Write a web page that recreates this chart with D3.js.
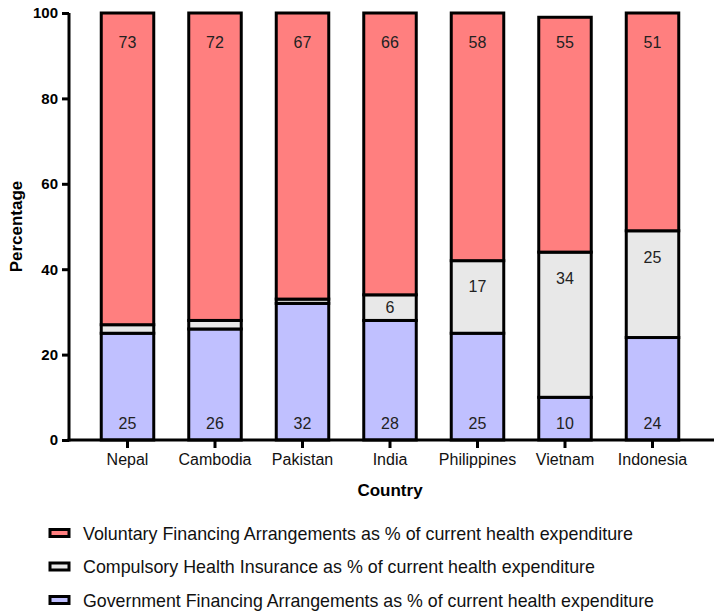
<!DOCTYPE html>
<html>
<head>
<meta charset="utf-8">
<script src="https://cdn.jsdelivr.net/npm/d3@7"></script>
<style>
  body { margin: 0; background: #fff; }
  text { font-family: "Liberation Sans", Arial, sans-serif; }
</style>
</head>
<body>
<div id="chart"></div>
<script>
// Data
var countries = ["Nepal", "Cambodia", "Pakistan", "India", "Philippines", "Vietnam", "Indonesia"];
var government = [25, 26, 32, 28, 25, 10, 24];
var compulsory = [2, 2, 1, 6, 17, 34, 25];
var voluntary = [73, 72, 67, 66, 58, 55, 51];
var yTicks = [0, 20, 40, 60, 80, 100];

var seriesNames = [
  "Government Financing Arrangements as % of current health expenditure",
  "Compulsory Health Insurance as % of current health expenditure",
  "Voluntary Financing Arrangements as % of current health expenditure"
];
var seriesColors = ["#c0c0ff", "#e8e8e8", "#ff7f7f"];
var seriesValues = [government, compulsory, voluntary];
// labels hidden on tiny slivers
var showLabel = [
  [true, true, true, true, true, true, true],
  [false, false, false, true, true, true, true],
  [true, true, true, true, true, true, true]
];

var svgWidth = 720;
var svgHeight = 612;

var chartMargin = { top: 13, left: 69 };
var chartHeight = 427;
var chartWidth = 645;

var svg = d3.select("#chart")
  .append("svg")
  .attr("width", svgWidth)
  .attr("height", svgHeight);

var chartGroup = svg.append("g")
  .attr("transform", `translate(${chartMargin.left}, ${chartMargin.top})`);

// stacked rows
var rows = countries.map((c, i) => {
  var r = { country: c };
  seriesValues.forEach((s, k) => r["s" + k] = s[i]);
  return r;
});
var stack = d3.stack().keys(["s0", "s1", "s2"]);
var stacked = stack(rows);

var xScale = d3.scaleBand()
  .domain(countries)
  .range([-1, chartWidth - 2])
  .paddingInner(0.4)
  .paddingOuter(0.38);

var yScale = d3.scaleLinear()
  .domain([0, 100])
  .range([chartHeight, 0]);

// bars
stacked.forEach((layer, k) => {
  var g = chartGroup.append("g");
  g.selectAll("rect")
    .data(layer)
    .enter()
    .append("rect")
    .attr("x", d => xScale(d.data.country))
    .attr("y", d => yScale(d[1]))
    .attr("width", xScale.bandwidth())
    .attr("height", d => yScale(d[0]) - yScale(d[1]))
    .attr("fill", seriesColors[k])
    .attr("stroke", "#000")
    .attr("stroke-width", 3);

  g.selectAll("text")
    .data(layer.filter((d, i) => showLabel[k][i]))
    .enter()
    .append("text")
    .attr("x", d => xScale(d.data.country) + xScale.bandwidth() / 2)
    .attr("y", d => {
      var top = yScale(d[1]), bottom = yScale(d[0]);
      if (k === 0) return bottom - 17;
      if (k === 2) return 29;
      return Math.min((top + bottom) / 2, top + 26);
    })
    .attr("dy", "0.36em")
    .attr("text-anchor", "middle")
    .attr("font-size", "16px")
    .attr("fill", "#222")
    .text(d => d[1] - d[0]);
});

// axes
var yAxis = d3.axisLeft(yScale).tickValues(yTicks).tickSize(7).tickPadding(4);
var xAxis = d3.axisBottom(xScale).tickSize(8).tickPadding(6);

var yG = chartGroup.append("g").call(yAxis);
yG.select(".domain").attr("d", `M0,${chartHeight + 1.5}V0`);
yG.selectAll("line, path").attr("stroke", "#000").attr("stroke-width", 3);
yG.selectAll("text")
  .attr("font-size", "15px")
  .attr("font-weight", "bold")
  .attr("font-family", "Liberation Sans, Arial, sans-serif")
  .attr("fill", "#000");

var xG = chartGroup.append("g")
  .attr("transform", `translate(0, ${chartHeight})`)
  .call(xAxis);
xG.select(".domain").attr("d", `M-1.5,0H${chartWidth}`);
xG.selectAll("line, path").attr("stroke", "#000").attr("stroke-width", 3);
xG.selectAll("text")
  .attr("font-size", "16px")
  .attr("font-family", "Liberation Sans, Arial, sans-serif")
  .attr("fill", "#111");

// axis titles
chartGroup.append("text")
  .attr("transform", `translate(${321}, ${chartHeight + 56})`)
  .attr("text-anchor", "middle")
  .attr("font-size", "17px")
  .attr("font-weight", "bold")
  .text("Country");

chartGroup.append("text")
  .attr("transform", `translate(-47, ${chartHeight / 2})rotate(-90)`)
  .attr("text-anchor", "middle")
  .attr("font-size", "17px")
  .attr("font-weight", "bold")
  .text("Percentage");

// legend (voluntary on top)
var legendOrder = [2, 1, 0];
var legendWidths = [550, 512, 571];
var legend = svg.append("g").attr("transform", "translate(50, 533)");
legendOrder.forEach((k, i) => {
  var row = legend.append("g").attr("transform", `translate(0, ${i * 33.5})`);
  row.append("rect")
    .attr("x", 0).attr("y", -3.5)
    .attr("width", 19).attr("height", 7)
    .attr("fill", seriesColors[k])
    .attr("stroke", "#000")
    .attr("stroke-width", 3);
  row.append("text")
    .attr("x", 33)
    .attr("dy", "0.36em")
    .attr("font-size", "19px")
    .attr("fill", "#111")
    .attr("textLength", legendWidths[i])
    .attr("lengthAdjust", "spacingAndGlyphs")
    .text(seriesNames[k]);
});
</script>
</body>
</html>
